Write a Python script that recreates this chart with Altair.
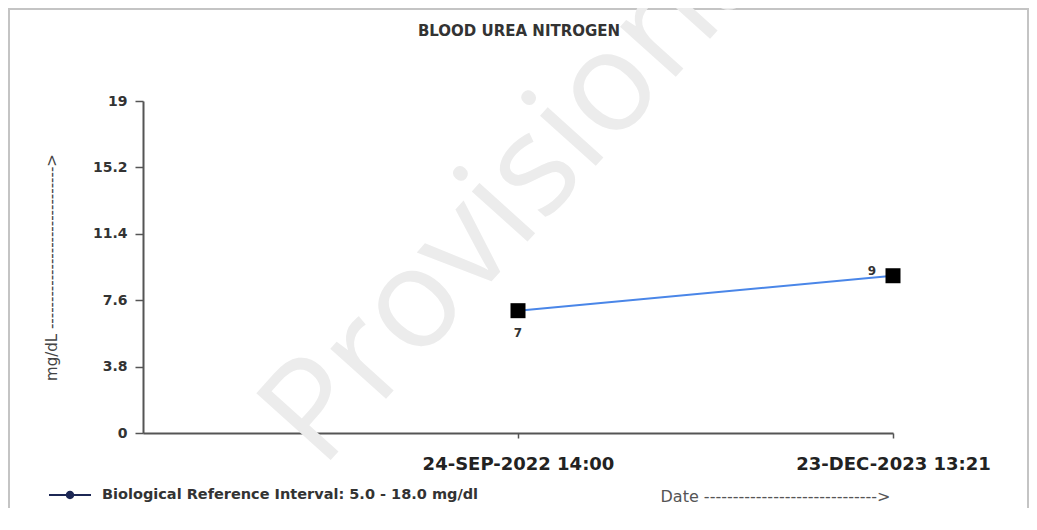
import altair as alt
import pandas as pd

# ---- data ----
dates = ["24-SEP-2022 14:00", "23-DEC-2023 13:21"]
values = [7, 9]
y_ticks = [0, 3.8, 7.6, 11.4, 15.2, 19]
legend_label = "Biological Reference Interval: 5.0 - 18.0 mg/dl"
chart_title = "BLOOD UREA NITROGEN"
watermark = "Provisional"
y_title = "mg/dL " + "-" * 30 + ">"
x_title = "Date " + "-" * 30 + ">"

df = pd.DataFrame({
    "pos": list(range(1, len(dates) + 1)),
    "date": dates,
    "value": values,
    "series": [legend_label] * len(dates),
})

label_expr = " : ".join(
    [f"datum.value == {i + 1} ? '{d}'" for i, d in enumerate(dates)] + ["''"]
)

W, H = 750, 332
PL, PT, PR, PB = 135, 93, 136, 75
FONT = "DejaVu Sans"

x_enc = alt.X(
    "pos:Q",
    scale=alt.Scale(domain=[0, len(dates)], nice=False, zero=True),
    axis=alt.Axis(
        values=list(range(1, len(dates) + 1)),
        labelExpr=label_expr,
        title=x_title,
        titleX=632, titleY=63, titleBaseline="middle",
        titleFont=FONT, titleFontSize=16, titleFontWeight="normal", titleColor="#555",
        labelFont=FONT, labelFontSize=18, labelFontWeight="bold", labelColor="#222",
        labelPadding=17, labelLimit=400, labelOverlap=False, labelFlush=False,
        tickSize=5, grid=False,
        domainColor="#555", domainWidth=2, tickColor="#555", tickWidth=1.5,
    ),
)
y_enc = alt.Y(
    "value:Q",
    scale=alt.Scale(domain=[0, 19], nice=False),
    axis=alt.Axis(
        values=y_ticks, format=".1~f",
        title=y_title,
        titleX=-92, titleY=166, titleBaseline="middle", titleAngle=270,
        titleFont=FONT, titleFontSize=15, titleFontWeight="normal", titleColor="#444",
        labelFont=FONT, labelFontSize=14, labelFontWeight="bold", labelColor="#333",
        labelPadding=8, tickSize=8, grid=False,
        domainColor="#555", domainWidth=2, tickColor="#555", tickWidth=1.5,
    ),
)

base = alt.Chart(df)
first = base.transform_filter("datum.pos == 1")

frame = base.mark_rect(fill=None, stroke="#c4c4c4", strokeWidth=2, clip=False).encode(
    x=alt.value(-PL + 1), x2=alt.value(W + PR - 1),
    y=alt.value(-PT + 1), y2=alt.value(H + PB + 20),
)

wm = first.mark_text(
    font="Open Sans", fontSize=140, color="#ececec", angle=312,
    align="center", baseline="middle", clip=False,
).encode(x=alt.value(387), y=alt.value(75), text=alt.value(watermark))

title = first.mark_text(
    font=FONT, fontSize=15, fontWeight="bold", color="#333",
    align="center", baseline="middle", clip=False,
).encode(x=alt.value(W / 2 + 1), y=alt.value(-70), text=alt.value(chart_title))

line = base.mark_line(color="#4a86e8", strokeWidth=2).encode(x=x_enc, y=y_enc)

pts = base.mark_point(shape="square", filled=True, size=225, color="#000", opacity=1).encode(
    x="pos:Q", y="value:Q"
)

lbl_first = first.mark_text(
    font=FONT, fontSize=12, fontWeight="bold", color="#333", dy=22
).encode(x="pos:Q", y="value:Q", text="value:Q")

lbl_last = base.transform_filter("datum.pos > 1").mark_text(
    font=FONT, fontSize=12, fontWeight="bold", color="#333", dx=-21, dy=-5
).encode(x="pos:Q", y="value:Q", text="value:Q")

sym_path = (
    "M-1,-0.05H-0.15V0.05H-1Z M0.15,-0.05H1V0.05H0.15Z "
    "M0.2,0A0.2,0.2 0 1,1 -0.2,0A0.2,0.2 0 1,1 0.2,0Z"
)
legend_layer = base.mark_text(fontSize=1).encode(
    x="pos:Q", y="value:Q", text=alt.value(""),
    color=alt.Color(
        "series:N",
        scale=alt.Scale(range=["#1c2754"]),
        legend=alt.Legend(
            title=None, orient="none", legendX=-95, legendY=372,
            symbolType=sym_path, symbolSize=1764, symbolOpacity=1,
            labelFont=FONT, labelFontSize=14.5, labelFontWeight="bold", labelColor="#333",
            labelOffset=10, padding=0, labelLimit=600,
        ),
    ),
)

chart = (
    alt.layer(frame, wm, title, line, pts, lbl_first, lbl_last, legend_layer)
    .properties(
        width=W, height=H,
        padding={"left": PL, "top": PT, "right": PR, "bottom": PB},
        autosize=alt.AutoSizeParams(type="none"),
    )
    .configure_view(stroke="transparent")
)

chart.save("out.html", embed_options={"renderer": "svg", "actions": False})
